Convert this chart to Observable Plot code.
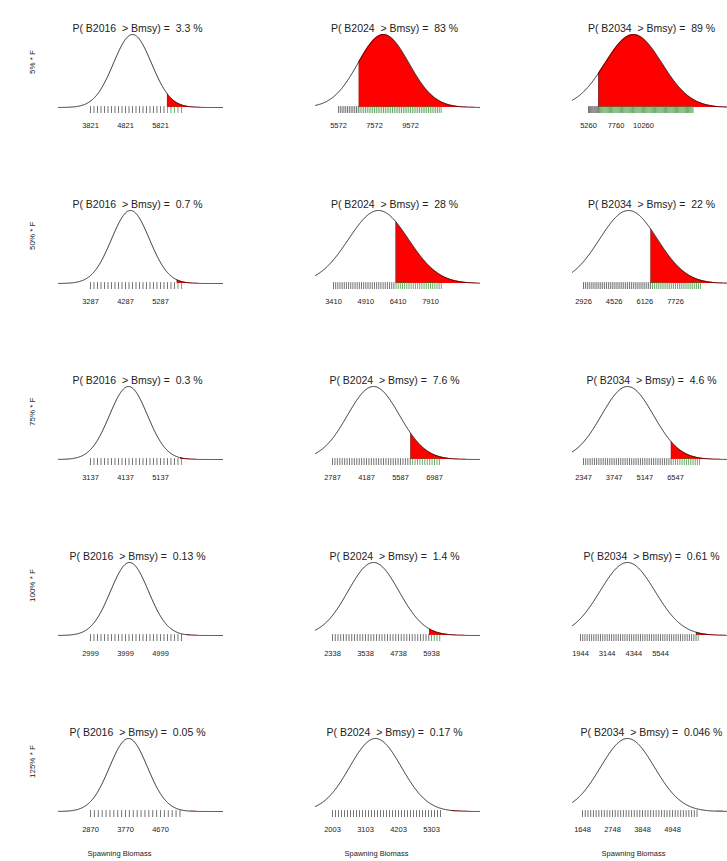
<!DOCTYPE html>
<html>
<head>
<meta charset="utf-8">
<script src="https://cdn.jsdelivr.net/npm/d3@7"></script>
<script src="https://cdn.jsdelivr.net/npm/@observablehq/plot@0.6"></script>
<style>
  html, body { margin: 0; padding: 0; background: #fff; }
  body { width: 727px; height: 861px; overflow: hidden; position: relative;
         font-family: "Liberation Sans", Arial, sans-serif; }
  .panel { position: absolute; width: 257px; height: 176px; }
  .panel svg { overflow: visible; max-width: none !important; }
  .panel text { white-space: pre; }
</style>
</head>
<body>
<div id="grid"></div>
<script>
// Projection years (columns) and fishing scenarios (rows)
const years = [2016, 2024, 2034];
const scenarios = ["5% * F", "50% * F", "75% * F", "100% * F", "125% * F"];

// Probability that spawning biomass exceeds Bmsy, as printed (%)
const probLabels = [
  ["3.3", "83", "89"],
  ["0.7", "28", "22"],
  ["0.3", "7.6", "4.6"],
  ["0.13", "1.4", "0.61"],
  ["0.05", "0.17", "0.046"]
];

// Centre and spread of each spawning-biomass distribution
const centres = [
  [5021, 8072, 9350],
  [4430, 5497, 5274],
  [4223, 4475, 4356],
  [4114, 3829, 4059],
  [3847, 3436, 3298]
];
const spreads = [
  [543, 1417, 2591],
  [543, 1391, 1513],
  [543, 1070, 1187],
  [543, 927, 1238],
  [489, 867, 990]
];

// Labelled tick values on each biomass axis
const tickLabels = [
  [[3821, 4821, 5821], [5572, 7572, 9572], [5260, 7760, 10260]],
  [[3287, 4287, 5287], [3410, 4910, 6410, 7910], [2926, 4526, 6126, 7726]],
  [[3137, 4137, 5137], [2787, 4187, 5587, 6987], [2347, 3747, 5147, 6547]],
  [[2999, 3999, 4999], [2338, 3538, 4738, 5938], [1944, 3144, 4344, 5544]],
  [[2870, 3770, 4670], [2003, 3103, 4203, 5303], [1648, 2748, 3848, 4948]]
];

// Biomass range covered by each panel
const xRanges = [
  [[2907, 7593], [4294, 13405], [3805, 18714]],
  [[2373, 7059], [2575, 10182], [2352, 10909]],
  [[2223, 6909], [2087, 8839], [1845, 9332]],
  [[2085, 6771], [1720, 7684], [1584, 8964]],
  [[2047, 6264], [1436, 6903], [1281, 7295]]
];

// Last minor tick (every 100 t) of each axis strip
const stripEnds = [
  [6421, 11272, 14760],
  [5887, 8410, 9026],
  [5737, 7187, 7647],
  [5599, 6238, 7244],
  [5170, 5603, 5848]
];
const minorStep = 100;

// Inverse standard normal CDF (Acklam's rational approximation)
function qnorm(p) {
  const a = [-3.969683028665376e+01, 2.209460984245205e+02, -2.759285104469687e+02,
             1.383577518672690e+02, -3.066479806614716e+01, 2.506628277459239e+00];
  const b = [-5.447609879822406e+01, 1.615858368580409e+02, -1.556989798598866e+02,
             6.680131188771972e+01, -1.328068155288572e+01];
  const c = [-7.784894002430293e-03, -3.223964580411365e-01, -2.400758277161838e+00,
             -2.549671010862340e+00, 4.374664141464968e+00, 2.938163982698783e+00];
  const d = [7.784695709041462e-03, 3.224671290700398e-01, 2.445134137142996e+00,
             3.754408661907416e+00];
  const pl = 0.02425, ph = 1 - pl;
  let q, r;
  if (p < pl) {
    q = Math.sqrt(-2 * Math.log(p));
    return (((((c[0]*q+c[1])*q+c[2])*q+c[3])*q+c[4])*q+c[5]) /
           ((((d[0]*q+d[1])*q+d[2])*q+d[3])*q+1);
  }
  if (p <= ph) {
    q = p - 0.5; r = q * q;
    return (((((a[0]*r+a[1])*r+a[2])*r+a[3])*r+a[4])*r+a[5])*q /
           (((((b[0]*r+b[1])*r+b[2])*r+b[3])*r+b[4])*r+1);
  }
  q = Math.sqrt(-2 * Math.log(1 - p));
  return -(((((c[0]*q+c[1])*q+c[2])*q+c[3])*q+c[4])*q+c[5]) /
          ((((d[0]*q+d[1])*q+d[2])*q+d[3])*q+1);
}

const W = 257, H = 176;
const textColor = "#222";
const grid = document.getElementById("grid");

for (let r = 0; r < scenarios.length; r++) {
  for (let c = 0; c < years.length; c++) {
    const [lo, hi] = xRanges[r][c];
    const mu = centres[r][c], sd = spreads[r][c];
    const p = +probLabels[r][c] / 100;
    const bmsy = mu + sd * qnorm(1 - p);
    const pdf = x => Math.exp(-0.5 * ((x - mu) / sd) ** 2) / (sd * Math.sqrt(2 * Math.PI));
    const n = 500;
    const curve = d3.range(n + 1).map(i => { const x = lo + (hi - lo) * i / n; return {x, y: pdf(x)}; });
    const tail = [{x: bmsy, y: pdf(bmsy)}, ...curve.filter(d => d.x > bmsy)];
    const peak = pdf(mu);
    const yLow = -6 / 73 * peak;
    const labels = tickLabels[r][c];
    const minor = d3.range(labels[0], stripEnds[r][c] + 1, minorStep);

    const marks = [
      Plot.areaY(tail, {x: "x", y: "y", fill: "#ff0000"}),
      Plot.ruleX(minor.filter(v => v < bmsy), {y1: yLow, y2: 0.012 * peak, stroke: "#444", strokeWidth: 0.75}),
      Plot.ruleX(minor.filter(v => v >= bmsy), {y1: yLow, y2: 0.012 * peak, stroke: "#3a8f3a", strokeWidth: 0.75}),
      Plot.ruleX([bmsy], {y1: 0, y2: pdf(bmsy), stroke: "#444", strokeWidth: 0.6}),
      Plot.lineY(curve, {x: "x", y: "y", stroke: "#111", strokeWidth: 0.9}),
      Plot.axisX({ticks: labels, tickFormat: "d", tickSize: 0, tickPadding: 9,
                  fontSize: 7.5, fill: textColor, anchor: "bottom", label: null}),
      Plot.text([`P( B${years[c]}  > Bmsy) =  ${probLabels[r][c]} %`], {
        frameAnchor: "top", dy: -10, dx: -3, fontSize: 10.5, fill: textColor
      })
    ];
    if (c === 0) {
      marks.push(Plot.text([scenarios[r]], {
        frameAnchor: "left", dx: -26, rotate: -90, fontSize: 8, fill: textColor
      }));
    }
    if (r === scenarios.length - 1) {
      marks.push(Plot.text(["Spawning Biomass"], {
        frameAnchor: "bottom", dy: 38, dx: -21, fontSize: 7.5, fill: textColor
      }));
    }

    const chart = Plot.plot({
      width: W, height: H,
      marginLeft: 58, marginRight: 35, marginTop: 34, marginBottom: 63,
      style: {background: "transparent", fontFamily: "'Liberation Sans', Arial, sans-serif", maxWidth: "none"},
      x: {domain: [lo, hi], axis: null},
      y: {domain: [yLow, peak], axis: null},
      marks
    });
    const div = document.createElement("div");
    div.className = "panel";
    div.style.left = (c * W) + "px";
    div.style.top = (r * H) + "px";
    div.appendChild(chart);
    grid.appendChild(div);
  }
}
</script>
</body>
</html>
